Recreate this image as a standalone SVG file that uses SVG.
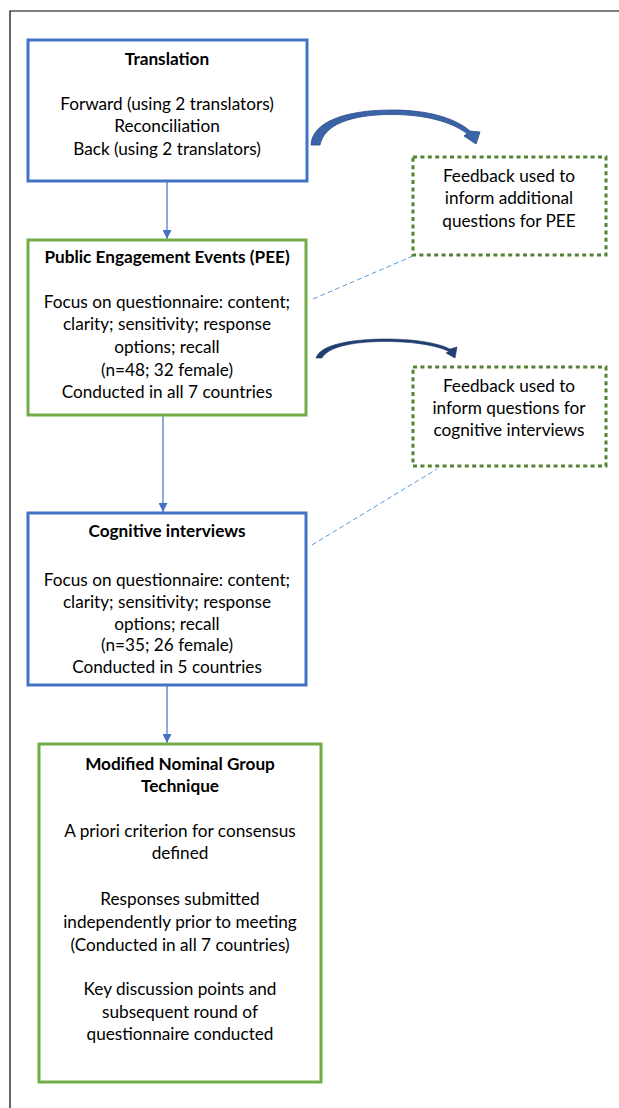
<svg xmlns="http://www.w3.org/2000/svg" width="619" height="1108" viewBox="0 0 619 1108">
<defs>
<style>
text{font-family:Lato,"Open Sans","Liberation Sans",sans-serif;font-size:17.2px;fill:#000;text-anchor:middle}
.b{font-weight:bold}
.blue{fill:#fff;stroke:#4472C4;stroke-width:3}
.green{fill:#fff;stroke:#70AD47;stroke-width:3}
.dot{fill:#fff;stroke:#548235;stroke-width:3;stroke-dasharray:4 3.4}
.flow{stroke:#4472C4;stroke-width:1.2;fill:none}
.dash{stroke:#5B9BD5;stroke-width:1;stroke-dasharray:5 3;fill:none}
</style>
<marker id="ah" viewBox="0 0 10 10" refX="10" refY="5" markerWidth="9" markerHeight="9" markerUnits="userSpaceOnUse" orient="auto">
<path d="M0,0 L10,5 L0,10 Z" fill="#4472C4"/>
</marker>
</defs>
<rect width="619" height="1108" fill="#fff"/>
<path d="M10,1108 V11 H619" fill="none" stroke="#000" stroke-width="1.2"/>

<g id="connectors">
<line class="flow" x1="167" y1="182" x2="167" y2="239" marker-end="url(#ah)"/>
<line class="flow" x1="163" y1="416" x2="163" y2="512" marker-end="url(#ah)"/>
<line class="flow" x1="167" y1="686" x2="167" y2="743" marker-end="url(#ah)"/>
<line class="dash" x1="313" y1="299" x2="413" y2="256"/>
<line class="dash" x1="312" y1="545" x2="437" y2="469"/>
<path d="M311,145 C312,122 345,110 392,110 C428,110 455,118 470,131 L480,132 L476,144 L464,136 L467,133.5 C452,122 425,114.5 392,114.5 C350,114.5 324,125 320,145 Z" fill="#3B63A8" stroke="#2B4C86" stroke-width="0.8"/>
<path d="M316,358 C320,345 350,339 386,339 C415,339 438,343 450,349 L457,347 L455,358 L446,353 L449,351.5 C437,345.5 413,341.5 386,341.5 C352,341.5 328,347 322,358 Z" fill="#203F75" stroke="#1F3864" stroke-width="0.6"/>
</g>

<g id="translation">
<rect class="blue" x="28" y="40" width="279" height="141"/>
<text class="b" x="167" y="65">Translation</text>
<text x="167" y="110">Forward (using 2 translators)</text>
<text x="167" y="132">Reconciliation</text>
<text x="167" y="155">Back (using 2 translators)</text>
</g>

<g id="feedback1">
<rect class="dot" x="413" y="157" width="193" height="98"/>
<text x="509" y="182">Feedback used to</text>
<text x="509" y="204">inform additional</text>
<text x="509" y="227">questions for PEE</text>
</g>

<g id="pee">
<rect class="green" x="28" y="240" width="278" height="175"/>
<text class="b" x="167" y="263">Public Engagement Events (PEE)</text>
<text x="167" y="308">Focus on questionnaire: content;</text>
<text x="167" y="330">clarity; sensitivity; response</text>
<text x="167" y="353">options; recall</text>
<text x="167" y="376">(n=48; 32 female)</text>
<text x="167" y="398">Conducted in all 7 countries</text>
</g>

<g id="feedback2">
<rect class="dot" x="413" y="367" width="193" height="99"/>
<text x="509" y="392">Feedback used to</text>
<text x="509" y="414">inform questions for</text>
<text x="509" y="436">cognitive interviews</text>
</g>

<g id="cognitive">
<rect class="blue" x="28" y="513" width="278" height="172"/>
<text class="b" x="167" y="537">Cognitive interviews</text>
<text x="167" y="586">Focus on questionnaire: content;</text>
<text x="167" y="608">clarity; sensitivity; response</text>
<text x="167" y="630">options; recall</text>
<text x="167" y="651">(n=35; 26 female)</text>
<text x="167" y="673">Conducted in 5 countries</text>
</g>

<g id="mngt">
<rect class="green" x="39" y="744" width="282" height="338"/>
<text class="b" x="180" y="770">Modified Nominal Group</text>
<text class="b" x="180" y="792">Technique</text>
<text x="180" y="837">A priori criterion for consensus</text>
<text x="180" y="859">defined</text>
<text x="180" y="905">Responses submitted</text>
<text x="180" y="928">independently prior to meeting</text>
<text x="180" y="951">(Conducted in all 7 countries)</text>
<text x="180" y="995">Key discussion points and</text>
<text x="180" y="1018">subsequent round of</text>
<text x="180" y="1040">questionnaire conducted</text>
</g>
</svg>
